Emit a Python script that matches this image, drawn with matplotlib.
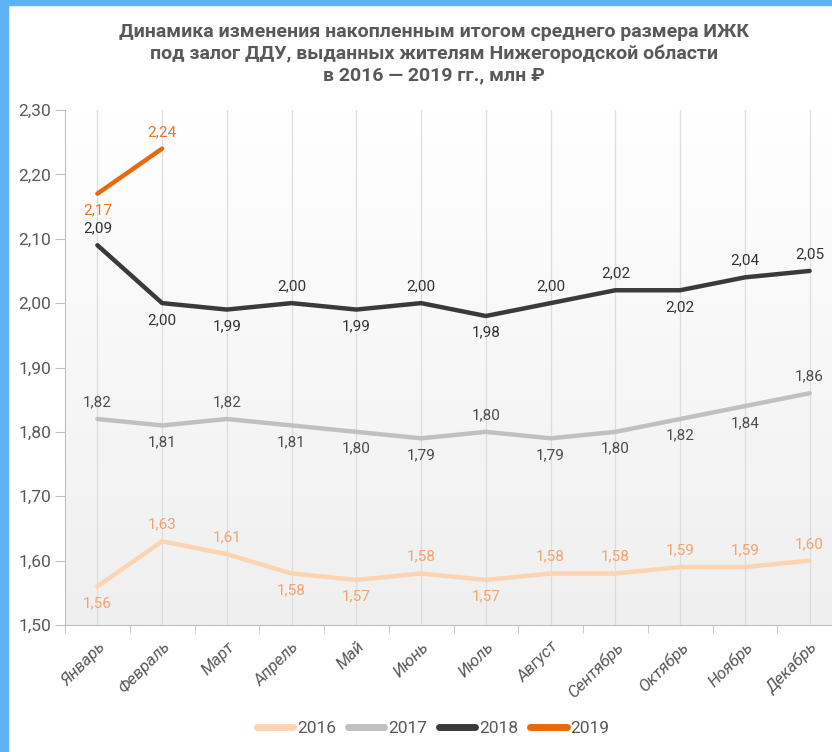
import matplotlib.pyplot as plt
import numpy as np
from matplotlib.patches import Rectangle

# данные
months = ["Январь", "Февраль", "Март", "Апрель", "Май", "Июнь", "Июль",
          "Август", "Сентябрь", "Октябрь", "Ноябрь", "Декабрь"]
y2016 = [1.56, 1.63, 1.61, 1.58, 1.57, 1.58, 1.57, 1.58, 1.58, 1.59, 1.59, 1.60]
y2017 = [1.82, 1.81, 1.82, 1.81, 1.80, 1.79, 1.80, 1.79, 1.80, 1.82, 1.84, 1.86]
y2018 = [2.09, 2.00, 1.99, 2.00, 1.99, 2.00, 1.98, 2.00, 2.02, 2.02, 2.04, 2.05]
y2019 = [2.17, 2.24]
# расположение подписей: 1 - сверху, -1 - снизу
pos2016 = [-1, 1, 1, -1, -1, 1, -1, 1, 1, 1, 1, 1]
pos2017 = [1, -1, 1, -1, -1, -1, 1, -1, -1, -1, -1, 1]
pos2018 = [1, -1, -1, 1, -1, 1, -1, 1, 1, -1, 1, 1]
pos2019 = [-1, 1]
yticks = [1.5, 1.6, 1.7, 1.8, 1.9, 2.0, 2.1, 2.2, 2.3]

plt.rcParams['font.family'] = ['Roboto', 'DejaVu Sans']
grey_txt = "#595959"

fig = plt.figure(figsize=(8.32, 7.52), dpi=100)
fig.patch.set_facecolor("white")
fig.patches.append(Rectangle((0, 0), 8 / 832, 1, transform=fig.transFigure,
                             color="#5fb3f5", zorder=10))
fig.patches.append(Rectangle((0, 1 - 5 / 752), 1, 5 / 752, transform=fig.transFigure,
                             color="#5fb3f5", zorder=10))

ax = fig.add_axes([65 / 832, 1 - 625 / 752, 777 / 832, 515 / 752])
x = np.arange(len(months))

# фон с градиентом
grad = np.linspace(1, 0, 256).reshape(-1, 1)
ax.imshow(grad, extent=[0, 1, 0, 1], transform=ax.transAxes, aspect="auto",
          cmap=plt.matplotlib.colors.LinearSegmentedColormap.from_list(
              "g", ["#efefef", "#ffffff"]), zorder=0)

series = [
    (y2016, pos2016, "#fdd4b2", "#f5a36b", "2016"),
    (y2017, pos2017, "#c0c0c0", "#4d4d4d", "2017"),
    (y2018, pos2018, "#3a3a3a", "#333333", "2018"),
    (y2019, pos2019, "#e8690b", "#ec7520", "2019"),
]
for vals, pos, col, tcol, name in series:
    xs = x[:len(vals)]
    ax.plot(xs, vals, color=col, lw=3.2, label=name, zorder=3,
            solid_capstyle="round")
    for xi, v, p in zip(xs, vals, pos):
        ax.annotate(f"{v:.2f}".replace(".", ","), (xi, v),
                    xytext=(0, 7 if p > 0 else -7), textcoords="offset points",
                    ha="center", va="bottom" if p > 0 else "top",
                    fontsize=11, color=tcol, zorder=4, clip_on=False)

ax.set_xlim(-0.5, 11.5)
ax.set_ylim(1.5, 2.3)
ax.set_yticks(yticks)
ax.set_yticklabels([f"{t:.2f}".replace(".", ",") for t in yticks],
                   fontsize=12.5, color=grey_txt)
ax.set_xticks(x)
ax.set_xticklabels(months, rotation=45, ha="right", rotation_mode="anchor",
                   fontsize=12, color=grey_txt, style="italic")
ax.set_xticks(np.arange(-0.5, 12, 1), minor=True)
ax.tick_params(axis="x", which="major", length=0, pad=10)
ax.tick_params(axis="x", which="minor", length=6, color="#bfbfbf")
ax.tick_params(axis="y", length=7, color="#bfbfbf", pad=3)
ax.grid(axis="x", which="major", color="#dddddd", lw=0.9, zorder=1)
for s in ["top", "right"]:
    ax.spines[s].set_visible(False)
ax.spines["left"].set_color("#bfbfbf")
ax.spines["bottom"].set_color("#bfbfbf")

fig.text(0.522, 1 - 23 / 752,
         "Динамика изменения накопленным итогом среднего размера ИЖК\n"
         "под залог ДДУ, выданных жителям Нижегородской области\n"
         "в 2016 — 2019 гг., млн ₽",
         ha="center", va="top", fontsize=14, fontweight="bold",
         color=grey_txt, linespacing=1.25)

leg = fig.legend(loc="center", bbox_to_anchor=(433 / 832, 1 - 728 / 752), ncol=4,
                 frameon=False, fontsize=12.5, handlelength=2.1,
                 handletextpad=0.2, columnspacing=0.7)
for h in leg.get_lines():
    h.set_linewidth(5)
for t in leg.get_texts():
    t.set_color(grey_txt)

fig.savefig("out.png", dpi=100)
